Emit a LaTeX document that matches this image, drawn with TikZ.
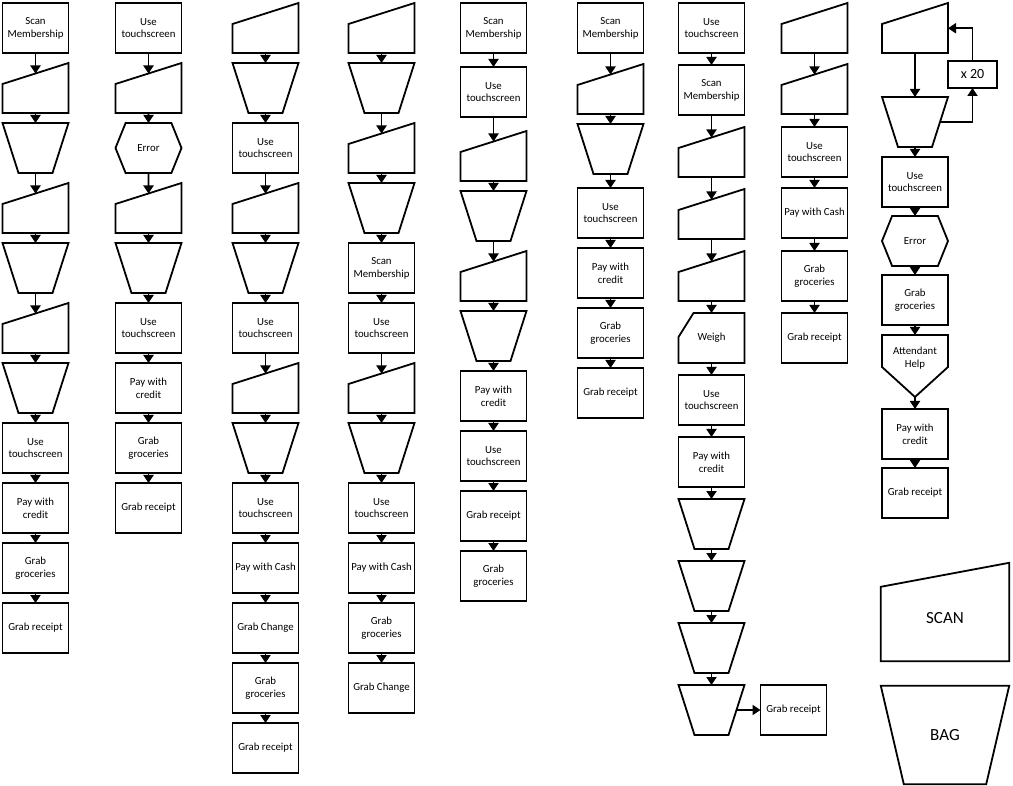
\documentclass[tikz,border=0pt]{standalone}
\usepackage{fontspec}
\setmainfont{Carlito}
\usetikzlibrary{positioning,arrows.meta,shapes.symbols}

\begin{document}
\begin{tikzpicture}[x=1pt, y=-1pt, node distance=10pt,
  line/.style={line width=1.8pt},
  box/.style={draw, rectangle, line width=1.8pt, align=center, minimum width=66pt, minimum height=50pt, inner sep=1pt, outer sep=0pt, font=\fontsize{10.8}{12.8}\selectfont},
  scanbox/.style={rectangle, minimum width=66pt, minimum height=39.5pt, inner sep=0pt, outer sep=0pt, yshift=-10.5pt},
  bag/.style={rectangle, minimum width=66pt, minimum height=50pt, inner sep=0pt, outer sep=0pt},
  error/.style={box, signal, signal to=west and east, signal pointer angle=136},
  help/.style={box, draw=none, minimum height=46pt},
  weigh/.style={box, draw=none},
  arr/.style={-{Triangle[width=10pt,length=8pt]}, line width=1.8pt}]
\useasboundingbox (0,0) rectangle (1013,786);

% column 1
\node (a1) [box, anchor=north] at (35.5,3) {Scan\\Membership};
\node (a2) [scanbox, below=of a1] {};
\node (a3) [bag, below=of a2] {};
\node (a4) [scanbox, below=of a3] {};
\node (a5) [bag, below=of a4] {};
\node (a6) [scanbox, below=of a5] {};
\node (a7) [bag, below=of a6] {};
\node (a8) [box, below=of a7] {Use\\touchscreen};
\node (a9) [box, below=of a8] {Pay with\\credit};
\node (a10) [box, below=of a9] {Grab\\groceries};
\node (a11) [box, below=of a10] {Grab receipt};

% column 2
\node (b1) [box, anchor=north] at (148.5,3) {Use\\touchscreen};
\node (b2) [scanbox, below=of b1] {};
\node (b3) [error, below=of b2] {Error};
\node (b4) [scanbox, below=of b3] {};
\node (b5) [bag, below=of b4] {};
\node (b6) [box, below=of b5] {Use\\touchscreen};
\node (b7) [box, below=of b6] {Pay with\\credit};
\node (b8) [box, below=of b7] {Grab\\groceries};
\node (b9) [box, below=of b8] {Grab receipt};

% column 3
\node (c1) [scanbox, anchor=north] at (265.5,3) {};
\node (c2) [bag, below=of c1] {};
\node (c3) [box, below=of c2] {Use\\touchscreen};
\node (c4) [scanbox, below=of c3] {};
\node (c5) [bag, below=of c4] {};
\node (c6) [box, below=of c5] {Use\\touchscreen};
\node (c7) [scanbox, below=of c6] {};
\node (c8) [bag, below=of c7] {};
\node (c9) [box, below=of c8] {Use\\touchscreen};
\node (c10) [box, below=of c9] {Pay with Cash};
\node (c11) [box, below=of c10] {Grab Change};
\node (c12) [box, below=of c11] {Grab\\groceries};
\node (c13) [box, below=of c12] {Grab receipt};

% column 4
\node (d1) [scanbox, anchor=north] at (381.5,3) {};
\node (d2) [bag, below=of d1] {};
\node (d3) [scanbox, below=of d2] {};
\node (d4) [bag, below=of d3] {};
\node (d5) [box, below=of d4] {Scan\\Membership};
\node (d6) [box, below=of d5] {Use\\touchscreen};
\node (d7) [scanbox, below=of d6] {};
\node (d8) [bag, below=of d7] {};
\node (d9) [box, below=of d8] {Use\\touchscreen};
\node (d10) [box, below=of d9] {Pay with Cash};
\node (d11) [box, below=of d10] {Grab\\groceries};
\node (d12) [box, below=of d11] {Grab Change};

% column 5
\node (e1) [box, anchor=north] at (493.5,3) {Scan\\Membership};
\node (e2) [box, below=14pt of e1] {Use\\touchscreen};
\node (e3) [scanbox, below=14pt of e2] {};
\node (e4) [bag, below=of e3] {};
\node (e5) [scanbox, below=of e4] {};
\node (e6) [bag, below=of e5] {};
\node (e7) [box, below=of e6] {Pay with\\credit};
\node (e8) [box, below=of e7] {Use\\touchscreen};
\node (e9) [box, below=of e8] {Grab receipt};
\node (e10) [box, below=of e9] {Grab\\groceries};

% column 6
\node (f1) [box, anchor=north] at (610.5,3) {Scan\\Membership};
\node (f2) [scanbox, below=11pt of f1] {};
\node (f3) [bag, below=of f2] {};
\node (f4) [box, below=14pt of f3] {Use\\touchscreen};
\node (f5) [box, below=of f4] {Pay with\\credit};
\node (f6) [box, below=of f5] {Grab\\groceries};
\node (f7) [box, below=of f6] {Grab receipt};

% column 7
\node (g1) [box, anchor=north] at (711.5,3) {Use\\touchscreen};
\node (g2) [box, below=12pt of g1] {Scan\\Membership};
\node (g3) [scanbox, below=12pt of g2] {};
\node (g4) [scanbox, below=12pt of g3] {};
\node (g5) [scanbox, below=12pt of g4] {};
\node (g6) [weigh, below=12pt of g5] {Weigh};
\node (g7) [box, below=12pt of g6] {Use\\touchscreen};
\node (g8) [box, below=12pt of g7] {Pay with\\credit};
\node (g9) [bag, below=12pt of g8] {};
\node (g10) [bag, below=12pt of g9] {};
\node (g11) [bag, below=12pt of g10] {};
\node (g12) [bag, below=12pt of g11] {};
\node (g13) [box, right=16pt of g12] {Grab receipt};

% column 8
\node (h1) [scanbox, anchor=north] at (814.5,3) {};
\node (h2) [scanbox, below=11pt of h1] {};
\node (h3) [box, below=13pt of h2] {Use\\touchscreen};
\node (h4) [box, below=11pt of h3] {Pay with Cash};
\node (h5) [box, below=13pt of h4] {Grab\\groceries};
\node (h6) [box, below=12pt of h5] {Grab receipt};

% column 9
\node (i1) [scanbox, anchor=north] at (915,3) {};
\node (i2) [bag, below=44pt of i1] {};
\node (i3) [box, below=of i2] {Use\\touchscreen};
\node (i4) [error, below=9pt of i3] {Error};
\node (i5) [box, below=9pt of i4] {Grab\\groceries};
\node (i6) [help, below=of i5] {Attendant\\Help};
\node (i7) [box, below=28pt of i6] {Pay with\\credit};
\node (i8) [box, below=9pt of i7] {Grab receipt};
\node (rep) [box, minimum width=49pt, minimum height=27pt, font=\fontsize{14}{16}\selectfont] at (972.5,74.5) {x 20};

% key
\node (kscan) [rectangle, minimum width=128pt, minimum height=86pt, font=\fontsize{17}{20}\selectfont] at (945,618) {SCAN};
\node (kbag) [rectangle, minimum width=128pt, minimum height=98pt, font=\fontsize{17}{20}\selectfont] at (945,735) {BAG};

% outlines
\foreach \s in {a2,a4,a6,b2,b4,c1,c4,c7,d1,d3,d7,e3,e5,f2,g3,g4,g5,h1,h2,i1}
  \draw[line] (\s.south west) -- (\s.south east) -- ([yshift=10.5pt]\s.north east) -- ([yshift=-10.5pt]\s.north west) -- cycle;
\foreach \s in {a3,a5,a7,b5,c2,c5,c8,d2,d4,d8,e4,e6,f3,g9,g10,g11,g12,i2}
  \draw[line] (\s.north west) -- (\s.north east) -- ([xshift=-16pt]\s.south east) -- ([xshift=16pt]\s.south west) -- cycle;
\draw[line] (kscan.south west) -- (kscan.south east) -- ([yshift=12pt]kscan.north east) -- ([yshift=-12pt]kscan.north west) -- cycle;
\draw[line] (kbag.north west) -- (kbag.north east) -- ([xshift=-23pt]kbag.south east) -- ([xshift=23pt]kbag.south west) -- cycle;
\draw[line] ([xshift=15pt]g6.north west) -- (g6.north east) -- (g6.south east) -- (g6.south west) -- ([yshift=-24pt]g6.north west) -- cycle;
\draw[line] (i6.north west) -- (i6.north east) -- ([yshift=14pt]i6.south east) -- ([yshift=-16pt]i6.south) -- ([yshift=14pt]i6.south west) -- cycle;

\draw[arr] (a1) -- (a2);
\draw[arr] (a2) -- (a3);
\draw[arr] (a3) -- (a4);
\draw[arr] (a4) -- (a5);
\draw[arr] (a5) -- (a6);
\draw[arr] (a6) -- (a7);
\draw[arr] (a7) -- (a8);
\draw[arr] (a8) -- (a9);
\draw[arr] (a9) -- (a10);
\draw[arr] (a10) -- (a11);

\draw[arr] (b1) -- (b2);
\draw[arr] (b2) -- (b3);
\draw[arr] (b3) -- (b4);
\draw[arr] (b4) -- (b5);
\draw[arr] (b5) -- (b6);
\draw[arr] (b6) -- (b7);
\draw[arr] (b7) -- (b8);
\draw[arr] (b8) -- (b9);

\draw[arr] (c1) -- (c2);
\draw[arr] (c2) -- (c3);
\draw[arr] (c3) -- (c4);
\draw[arr] (c4) -- (c5);
\draw[arr] (c5) -- (c6);
\draw[arr] (c6) -- (c7);
\draw[arr] (c7) -- (c8);
\draw[arr] (c8) -- (c9);
\draw[arr] (c9) -- (c10);
\draw[arr] (c10) -- (c11);
\draw[arr] (c11) -- (c12);
\draw[arr] (c12) -- (c13);

\draw[arr] (d1) -- (d2);
\draw[arr] (d2) -- (d3);
\draw[arr] (d3) -- (d4);
\draw[arr] (d4) -- (d5);
\draw[arr] (d5) -- (d6);
\draw[arr] (d6) -- (d7);
\draw[arr] (d7) -- (d8);
\draw[arr] (d8) -- (d9);
\draw[arr] (d9) -- (d10);
\draw[arr] (d10) -- (d11);
\draw[arr] (d11) -- (d12);

\draw[arr] (e1) -- (e2);
\draw[arr] (e2) -- (e3);
\draw[arr] (e3) -- (e4);
\draw[arr] (e4) -- (e5);
\draw[arr] (e5) -- (e6);
\draw[arr] (e6) -- (e7);
\draw[arr] (e7) -- (e8);
\draw[arr] (e8) -- (e9);
\draw[arr] (e9) -- (e10);

\draw[arr] (f1) -- (f2);
\draw[arr] (f2) -- (f3);
\draw[arr] (f3) -- (f4);
\draw[arr] (f4) -- (f5);
\draw[arr] (f5) -- (f6);
\draw[arr] (f6) -- (f7);

\draw[arr] (g1) -- (g2);
\draw[arr] (g2) -- (g3);
\draw[arr] (g3) -- (g4);
\draw[arr] (g4) -- (g5);
\draw[arr] (g5) -- (g6);
\draw[arr] (g6) -- (g7);
\draw[arr] (g7) -- (g8);
\draw[arr] (g8) -- (g9);
\draw[arr] (g9) -- (g10);
\draw[arr] (g10) -- (g11);
\draw[arr] (g11) -- (g12);
\draw[arr] ([xshift=-8pt]g12.east) -- (g13);

\draw[arr] (h1) -- (h2);
\draw[arr] (h2) -- (h3);
\draw[arr] (h3) -- (h4);
\draw[arr] (h4) -- (h5);
\draw[arr] (h5) -- (h6);

\draw[arr] (i1) -- (i2);
\draw[arr] ([xshift=-8pt]i2.east) -| (rep);
\draw[arr] (rep) |- ([yshift=5pt]i1.east);
\draw[arr] (i2) -- (i3);
\draw[arr] (i3) -- (i4);
\draw[arr] (i4) -- (i5);
\draw[arr] (i5) -- (i6);
\draw[arr] ([yshift=-16pt]i6.south) -- (i7);
\draw[arr] (i7) -- (i8);
\end{tikzpicture}
\end{document}
